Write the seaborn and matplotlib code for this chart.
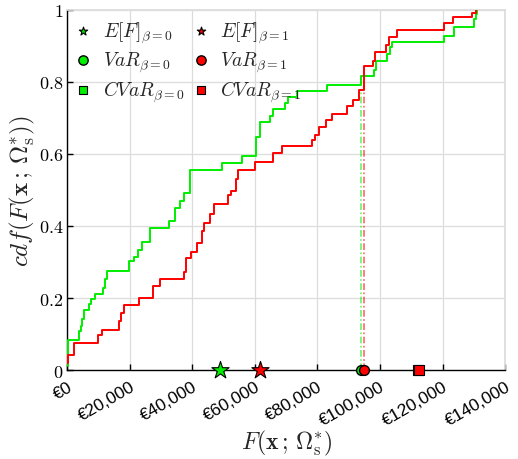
import matplotlib
matplotlib.use("Agg")
import matplotlib.pyplot as plt
import matplotlib.transforms as mtransforms
import seaborn as sns
import pandas as pd
from matplotlib.ticker import FixedLocator, FuncFormatter

# ---- data ----
green_x = [300, 350, 3750, 4290, 4810, 5450, 6960, 7600, 8880, 11350, 12080, 12630,
           19870, 21380, 22660, 23940, 26500, 32370, 34420, 36120, 37400, 39330,
           49400, 55900, 60380, 61760, 64960, 65700, 69770, 70640, 73520, 83140,
           93810, 98070, 98600, 102370, 103200, 103970, 120510, 123520, 129930,
           130670, 130900]
green_cdf = [0.011, 0.085, 0.108, 0.122, 0.143, 0.166, 0.184, 0.198, 0.211, 0.228, 0.252, 0.274,
             0.302, 0.315, 0.333, 0.356, 0.394, 0.415, 0.450, 0.469, 0.491, 0.556,
             0.574, 0.593, 0.647, 0.687, 0.706, 0.724, 0.741, 0.758, 0.775, 0.792,
             0.815, 0.833, 0.857, 0.877, 0.896, 0.909, 0.927, 0.951, 0.974,
             0.988, 1.0]
red_x = [0, 100, 2150, 9940, 11030, 16470, 17210, 18270, 22980, 27240, 29710, 37180,
         38040, 39550, 41470, 43080, 43810, 45510, 46790, 51410, 52370, 53970, 54610,
         59930, 65700, 68720, 78330, 79070, 80450, 82590, 84740, 89320, 91470, 93270,
         94870, 97880, 98390, 101820, 102880, 105570, 120510, 123200, 129390, 130670]
red_cdf = [0.020, 0.041, 0.076, 0.099, 0.111, 0.136, 0.159, 0.180, 0.199, 0.233, 0.254, 0.273,
           0.311, 0.328, 0.354, 0.385, 0.409, 0.432, 0.460, 0.485, 0.497, 0.530, 0.556,
           0.576, 0.601, 0.621, 0.638, 0.653, 0.674, 0.693, 0.711, 0.732, 0.750, 0.777,
           0.844, 0.858, 0.882, 0.902, 0.923, 0.942, 0.963, 0.979, 0.990, 1.0]

expected_value = [48900, 61500]     # E[F] beta=0, beta=1
value_at_risk = [93800, 95000]      # VaR beta=0, beta=1
cond_value_at_risk = [112300, 112500]  # CVaR beta=0, beta=1
var_line_top = [0.78, 0.78]
betas = ["0", "1"]

x_ticks = [0, 20000, 40000, 60000, 80000, 100000, 120000, 140000]
y_ticks = [0, 0.2, 0.4, 0.6, 0.8, 1.0]
y_tick_labels = ["0", "0.2", "0.4", "0.6", "0.8", "1"]

GREEN = "#00ee00"
RED = "#ff0000"
colors = [GREEN, RED]

sns.set_theme(style="whitegrid")
plt.rcParams["mathtext.fontset"] = "cm"
plt.rcParams["font.family"] = ["Liberation Sans", "DejaVu Sans"]

fig = plt.figure(figsize=(5.18, 4.6), dpi=100)
ax = fig.add_axes([0.13, 0.193, 0.845, 0.784])

# vertical VaR dash-dot lines
for v, top, c in zip(value_at_risk, var_line_top, colors):
    ax.vlines(v, 0, top, colors=c, linestyles=(0, (4, 1.5, 1, 1.5)), linewidth=1.2, alpha=0.6, zorder=2)

# step cdf curves
gdf = pd.DataFrame({"x": green_x, "cdf": green_cdf})
rdf = pd.DataFrame({"x": red_x, "cdf": red_cdf})
sns.lineplot(data=gdf, x="x", y="cdf", ax=ax, color=GREEN, drawstyle="steps-post",
             estimator=None, sort=False, linewidth=1.4, zorder=3)
sns.lineplot(data=rdf, x="x", y="cdf", ax=ax, color=RED, drawstyle="steps-post",
             estimator=None, sort=False, linewidth=1.4, zorder=3)

# statistics markers
for i in range(2):
    b = betas[i]
    c = colors[i]
    sns.scatterplot(x=[expected_value[i]], y=[0], marker="*", s=170, color=c,
                    edgecolor="black", linewidth=0.8, ax=ax, zorder=5, clip_on=False,
                    label=r"$E[F]_{\beta=%s}$" % b)
    sns.scatterplot(x=[value_at_risk[i]], y=[0], marker="o", s=50, color=c,
                    edgecolor="black", linewidth=1.0, ax=ax, zorder=5, clip_on=False,
                    label=r"$VaR_{\beta=%s}$" % b)
    sns.scatterplot(x=[cond_value_at_risk[i]], y=[0], marker="s", s=60, color=c,
                    edgecolor="black", linewidth=0.8, ax=ax, zorder=5 + i, clip_on=False,
                    label=r"$CVaR_{\beta=%s}$" % b)

ax.set_xlim(0, 140000)
ax.set_ylim(0, 1)
ax.xaxis.set_major_locator(FixedLocator(x_ticks))
ax.xaxis.set_major_formatter(FuncFormatter(lambda v, p: "\u20ac{:,.0f}".format(v)))
ax.set_yticks(y_ticks)
ax.set_yticklabels(["$%s$" % t for t in y_tick_labels], fontsize=13)

shift = mtransforms.ScaledTranslation(0.13, -0.02, fig.dpi_scale_trans)
for lab in ax.get_xticklabels():
    lab.set_rotation(30)
    lab.set_ha("right")
    lab.set_rotation_mode("anchor")
    lab.set_fontsize(12.5)
    lab.set_transform(lab.get_transform() + shift)

ax.grid(True, color="#dcdcdc", linewidth=0.9)
for s in ["top", "right"]:
    ax.spines[s].set_color("#dcdcdc")
for s in ["left", "bottom"]:
    ax.spines[s].set_color("black")
    ax.spines[s].set_linewidth(1.0)
ax.tick_params(axis="both", direction="in", length=4, width=1, color="black",
               left=True, bottom=True, labelcolor="black")
ax.tick_params(axis="x", pad=6)
ax.tick_params(axis="y", pad=3)

ax.set_xlabel(r"$F(\mathbf{x}\,;\,\Omega^{*}_{\rm s})$", fontsize=17, labelpad=0)
ax.set_ylabel(r"$cdf(F(\mathbf{x}\,;\,\Omega^{*}_{\rm s}))$", fontsize=18, labelpad=1)

leg = ax.legend(loc="upper left", ncol=2, frameon=False, fontsize=14,
                handletextpad=0.4, columnspacing=0.25, labelspacing=0.25,
                borderaxespad=0.0, borderpad=0.0, handlelength=1.2,
                bbox_to_anchor=(0.01, 0.972))
sizes = [40, 45, 28, 40, 45, 28]
for h, sz in zip(leg.legend_handles, sizes):
    h.set_sizes([sz])

fig.savefig("out.png", dpi=100)
